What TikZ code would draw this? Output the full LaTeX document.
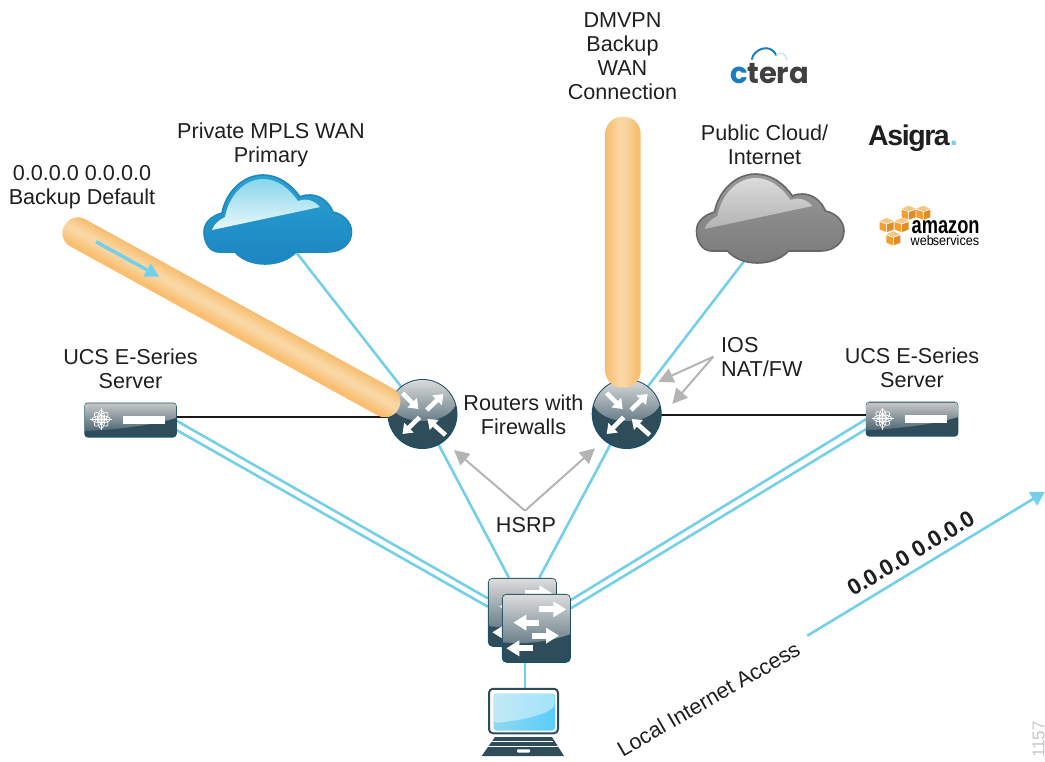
\documentclass[tikz,border=0pt]{standalone}
\usepackage{fontspec}
\usepackage{graphicx}
\setmainfont{Liberation Sans}
\newfontfamily\logofont{Poppins}
\usetikzlibrary{arrows.meta,calc}
\pgfdeclarelayer{links}
\pgfsetlayers{links,main}
\definecolor{linkblue}{HTML}{74CFE8}
\definecolor{hintgray}{HTML}{B4B4B4}
\definecolor{darkteal}{HTML}{1F4F63}
\definecolor{bodyteal}{HTML}{2F4C5B}
\definecolor{orangeedge}{HTML}{F6A843}
\definecolor{orangemid}{HTML}{F9D6A2}
\definecolor{orangelow}{HTML}{F9BE70}
\definecolor{cubeorange}{HTML}{F79C2D}
\definecolor{cloudedge}{HTML}{1E88C0}
\definecolor{cloudtop}{HTML}{2AA2D2}
\definecolor{cloudlow}{HTML}{1B85C1}
\definecolor{ctblue}{HTML}{1A7DBF}
\pgfdeclareverticalshading{tubeshade}{100bp}{color(0bp)=(orangelow);color(30bp)=(orangelow);color(48bp)=(orangemid);color(56bp)=(orangemid);color(90bp)=(orangeedge);color(100bp)=(orangeedge)}
\tikzset{
  lbl/.style={font=\fontsize{21.6}{24}\selectfont,align=center,text=black!88,inner sep=0pt},
  link/.style={draw=linkblue,line width=2.6pt},
  wire/.style={draw=black!90,line width=2.2pt},
  hint/.style={draw=hintgray,line width=2pt,-{Triangle[length=15pt,width=15pt]}},
  tube/.style={shading=tubeshade,rounded corners=15pt},
  routerbody/.style={circle,minimum size=68pt,inner sep=0pt,outer sep=1pt,fill=bodyteal,draw=darkteal,line width=2pt},
  switchbody/.style={rectangle,rounded corners=4pt,minimum size=67pt,inner sep=0pt,outer sep=1pt,fill=bodyteal,draw=darkteal,line width=2pt},
  serverbody/.style={rectangle,rounded corners=3pt,minimum width=91pt,minimum height=33.5pt,inner sep=0pt,outer sep=.5pt,fill=bodyteal,draw=darkteal,line width=1.5pt},
  whitearrow/.style={draw=white,line width=4.6pt,-{Triangle[length=9pt,width=13pt]}},
  swarrow/.style={draw=white,line width=6pt,-{Triangle[length=13pt,width=15pt]}},
  cloudbox/.style={rectangle,minimum width=148pt,minimum height=90pt,inner sep=0pt},
}
\newcommand{\routerart}[1]{%
  \begin{scope}
    \clip (#1) circle (34pt);
    \shade[top color=black!14,bottom color=bodyteal!72!white,shift={(#1)}] (0,-14) ellipse (34 and 21);
  \end{scope}
  \begin{scope}[shift={(#1)}]
    \draw[whitearrow] (-20,-21) -- (-4,-5);
    \draw[whitearrow] (4.3,-4) -- (21,-20);
    \draw[whitearrow] (-3,3.3) -- (-20,20);
    \draw[whitearrow] (23,21) -- (5,5);
  \end{scope}}
\newcommand{\switchart}[1]{%
  \begin{scope}[shift={(#1)}]
    \begin{scope}
      \clip[rounded corners=3.5pt] (-33.5,-33.5) rectangle (33.5,33.5);
      \shade[top color=black!14,bottom color=bodyteal!72!white] (-33.5,-33.5) -- (33.5,-33.5) -- (33.5,6) .. controls (12,14) and (-12,16) .. (-33.5,14) -- cycle;
    \end{scope}
    \draw[swarrow] (3,-19) -- (30,-19);
    \draw[swarrow] (3,-5.7) -- (-23,-5.7);
    \draw[swarrow] (-4,7.3) -- (22.7,7.3);
    \draw[swarrow] (-3.7,20) -- (-30,20);
  \end{scope}}
\newcommand{\serverart}[1]{%
  \begin{scope}[shift={(#1)}]
    \begin{scope}
      \clip[rounded corners=2.5pt] (-45.5,-16.7) rectangle (45.5,16.7);
      \shade[top color=black!22,bottom color=bodyteal!85!white] (-45.5,-16.7) -- (45.5,-16.7) -- (45.5,-2) .. controls (20,6) and (-20,10) .. (-45.5,11) -- cycle;
    \end{scope}
    \fill[white] (-7.5,-4.3) rectangle (34.5,4);
    \begin{scope}[shift={(-29.3,-.7)}]
      \fill[black!22] (0,0) circle (4.2);
      \foreach \a in {0,45,90,135}{\draw[white,line width=.7pt,rotate=\a] (0,0) ellipse (9 and 3.6);}
      \foreach \a in {0,90,180,270}{\draw[white,line width=1pt,rotate=\a] (0,0) -- (11,0);}
    \end{scope}
  \end{scope}}
\newcommand{\cloudpath}{(204,232) .. controls (204,222) and (212,216) .. (222,213)
  .. controls (226,192) and (243,175) .. (263,175)
  .. controls (278,175) and (291,184) .. (300,197)
  .. controls (304,195) and (307,195) .. (310,195)
  .. controls (320,195) and (329,202) .. (333,212)
  .. controls (343,214) and (351.5,222) .. (351.5,232)
  .. controls (351.5,244) and (341,252) .. (328,252) -- (296,252)
  .. controls (290,259) and (278,264) .. (265,264)
  .. controls (252,264) and (241,259) .. (235,252) -- (219,252)
  .. controls (210,252) and (204,243) .. (204,232) -- cycle}
\newcommand{\glosspath}{(212,230) .. controls (214,224) and (219,220) .. (225,217)
  .. controls (229,195) and (245,179) .. (263,179)
  .. controls (277,179) and (289,188) .. (298,201)
  .. controls (303,199) and (312,198) .. (320,207) -- cycle}
\newcommand{\cube}[2]{%
  \begin{scope}[shift={(#1,#2)}]
    \fill[cubeorange!60!white] (-7,-4) -- (0,-7) -- (7,-4) -- (0,-1.5) -- cycle;
    \fill[cubeorange] (-7,-3) -- (-.5,-.7) -- (-.5,7) -- (-7,4.5) -- cycle;
    \fill[cubeorange!90!black] (7,-3) -- (.5,-.7) -- (.5,7) -- (7,4.5) -- cycle;
  \end{scope}}
\begin{document}
\begin{tikzpicture}[x=1pt,y=-1pt]
\useasboundingbox (0,0) rectangle (1045,761);

% clouds
\node[cloudbox] (cloudA) at (277.7,219.5) {};
\node[cloudbox] (cloudB) at (770,218.5) {};
\coordinate (cloudAport) at (296,252);
\coordinate (cloudBport) at (745,260);
\draw[draw=cloudedge,line width=1.6pt,top color=cloudtop,bottom color=cloudlow] \cloudpath;
\shade[top color=linkblue!85!white,bottom color=white!85!linkblue] \glosspath;
\begin{scope}[shift={(492.5,-1)}]
  \draw[draw=black!60,line width=1.6pt,top color=black!40,bottom color=black!52] \cloudpath;
  \shade[top color=black!14,bottom color=black!30] \glosspath;
\end{scope}

% routers
\node[routerbody] (routerL) at (422.5,414) {};
\routerart{422.5,414}
\node[routerbody] (routerR) at (626.7,414) {};
\routerart{626.7,414}

% servers
\node[serverbody] (serverL) at (130.5,420) {};
\serverart{130.5,420}
\node[serverbody] (serverR) at (912,419.2) {};
\serverart{912,419.2}

% switches
\node[switchbody] (switchB) at (522.3,612.3) {};
\switchart{522.3,612.3}
\node[switchbody] (switchF) at (536.3,628.3) {};
\switchart{536.3,628.3}

% laptop
\node[rectangle,rounded corners=4pt,minimum width=69pt,minimum height=44.5pt,inner sep=0pt,draw=bodyteal,line width=2pt,fill=white] (laptop) at (523.5,711) {};
\coordinate (laptopTop) at (525,688);
\path[rounded corners=3pt,left color=linkblue!80!white,right color=cyan!70!blue!65!white] (493.5,693.5) rectangle (555,730.5);
\fill[white,opacity=.45,rounded corners=3pt] (494,694) -- (554.5,694) -- (554.5,707) .. controls (540,717) and (515,721) .. (494,723) -- cycle;
\fill[bodyteal] (495,737) -- (552,737) -- (564,756) -- (481.7,756) -- cycle;
\draw[white,line width=.8pt] (491.7,741.7) -- (553,741.7) (487,746) -- (558,746);
\fill[white,rounded corners=1pt] (517,749.3) rectangle (530,752.7);

% connectors
\begin{pgfonlayer}{links}
  \draw[link] (cloudAport) -- (routerL.center);
  \draw[link] (cloudBport) -- (routerR.center);
  \draw[link] (routerL.center) -- ([xshift=-13.3pt]switchB.north);
  \draw[link] (routerR.center) -- ([xshift=17pt]switchB.north);
  \draw[link] ([yshift=-.7pt]serverL.east) -- ([yshift=14pt]switchB.west);
  \draw[link] ([yshift=-10pt]serverL.east) -- ([yshift=5.6pt]switchB.west);
  \draw[link] ([yshift=28.3pt]switchF.east) -- (serverR.west);
  \draw[link] ([yshift=20pt]switchF.east) -- ([yshift=-10pt]serverR.west);
  \draw[link] (laptopTop) -- (laptopTop |- switchF.south);
  \coordinate (wireL) at ([yshift=3.3pt]serverL.east);
  \draw[wire] (wireL) -- (wireL -| routerL.center);
  \coordinate (wireR) at ([yshift=4.5pt]serverR.west);
  \draw[wire] (wireR) -- (wireR -| routerR.center);
\end{pgfonlayer}

% orange tubes
\path[tube,transform canvas={shift={(78,233)},rotate=-28.8}] (-15.5,-15.5) rectangle (365.5,15.5);
\path[tube,rounded corners=17pt,transform canvas={shift={(623,252.2)},rotate=90}] (-135.5,-17.7) rectangle (135.5,17.7);

% arrow in the left tube
\coordinate (backupFrom) at (96,241.7);
\coordinate (backupTo) at (159.3,276.7);
\draw[draw=linkblue,line width=3.6pt,-{Triangle[length=14pt,width=14pt]}] (backupFrom) -- (backupTo);

% internet access arrow
\coordinate (internetFrom) at (807.3,635.7);
\coordinate (internetTo) at (1045,491.7);
\draw[draw=linkblue,line width=2.6pt,-{Triangle[length=14pt,width=15pt]}] (internetFrom) -- (internetTo);

% hint arrows
\coordinate (hsrpApex) at (525,510.7);
\coordinate (hsrpL) at (454,450);
\coordinate (hsrpR) at (595,448.3);
\draw[hint] (hsrpApex) -- (hsrpL);
\draw[hint] (hsrpApex) -- (hsrpR);
\coordinate (iosApex) at (713.3,356.7);
\coordinate (iosA) at (658.3,381.7);
\coordinate (iosB) at (672.3,404);
\draw[hint] (iosApex) -- (iosA);
\draw[hint] (iosApex) -- (iosB);

% labels
\node[lbl] (t1) at (622.5,56) {DMVPN\\Backup\\WAN\\Connection};
\node[lbl] (t2) at (271,145) {Private MPLS WAN\\Primary};
\node[lbl] (t3) at (82,187) {0.0.0.0 0.0.0.0\\Backup Default};
\node[lbl] (t4) at (130.5,369) {UCS E-Series\\Server};
\node[lbl] (t5) at (523.5,415) {Routers with\\Firewalls};
\node[lbl] (t6) at (764.5,144.5) {Public Cloud/\\Internet};
\node[lbl,align=left,anchor=west] (t7) at (721,357) {IOS\\NAT/FW};
\node[lbl] (t8) at (912,368) {UCS E-Series\\Server};
\node[lbl] (t9) at (526,525.5) {HSRP};
\node[lbl,rotate=30] (t10) at (708.5,699) {Local Internet Access};
\node[lbl,rotate=31,font=\fontsize{22.5}{24}\selectfont\bfseries] (t11) at (910.7,553.3) {0.0.0.0 0.0.0.0};
\node[rotate=90,inner sep=0pt,text=black!22,font=\fontsize{17}{19}\selectfont] (t12) at (1038.5,739.5) {1157};

% logos
\draw[draw=ctblue,line width=2pt,line cap=round] (752,59) .. controls (753,50) and (770,42) .. (776,55);
\draw[draw=linkblue!60!white,line width=1pt,line cap=round] (776,55) .. controls (780,51) and (786,54) .. (787,60);
\node[inner sep=0pt,anchor=base west] (logoC) at (730.5,83) {\logofont\bfseries\fontsize{29}{30}\selectfont\textcolor{ctblue}{c}\kern-1pt\textcolor{black!75}{tera}};
\node[inner sep=0pt,anchor=base west] (logoA) at (868,145) {\fontsize{28.5}{30}\selectfont\bfseries\addfontfeature{LetterSpace=-5}\textcolor{black!88}{Asigra}\textcolor{linkblue}{.}};
\cube{908.7}{212.7}
\cube{923.3}{212.7}
\cube{886.7}{225}
\cube{901.7}{225}
\cube{893.3}{238.3}
\node[inner sep=0pt,anchor=base west] (logoB) at (911.5,233) {\scalebox{.76}[1]{\fontsize{24}{24}\selectfont\bfseries amazon}};
\node[inner sep=0pt,anchor=base west] (logoD) at (910.5,245) {\scalebox{.9}[1]{\fontsize{14}{14}\selectfont web\kern-1pt services}};
\end{tikzpicture}
\end{document}
